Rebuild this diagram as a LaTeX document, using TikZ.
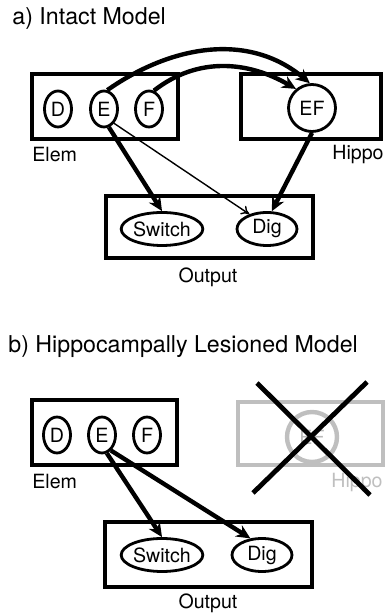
\documentclass[tikz,border=0pt]{standalone}
\usepackage{fontspec}
\setmainfont{TeX Gyre Heros}
\usetikzlibrary{shapes.geometric, arrows.meta}
\newcommand{\smalltext}{\fontsize{9.8}{11}\selectfont}
\newcommand{\bigtext}{\fontsize{11.6}{14}\selectfont}

\begin{document}
\begin{tikzpicture}[x=0.5pt, y=0.5pt,
    box/.style={draw, line width=1.8pt, inner sep=0pt, minimum width=73pt, minimum height=32.5pt},
    unit/.style={draw, ellipse, line width=1.4pt, inner sep=0pt, minimum width=13.5pt, minimum height=18pt, font=\smalltext},
    lbl/.style={inner sep=0pt, font=\smalltext},
    heading/.style={inner sep=0pt, anchor=west, font=\bigtext},
    link/.style={-{Stealth[length=7pt, width=6.5pt]}, line width=2.2pt},
    weak/.style={-{To[length=4pt, width=5pt]}, line width=0.7pt},
    lesion/.style={draw=gray!50, line width=2.2pt, inner sep=0pt},
    cross/.style={line width=2.4pt},
]
\useasboundingbox (0,0) rectangle (385,614);

    % a) Intact Model
    \node[heading] (titleA) at (12,595) {a) Intact Model};
    \node[box] (elemA) at (105,507.5) {};
    \node[box, minimum width=70pt] (hippoA) at (311,507.5) {};
    \foreach \n/\x in {D/58, E/104, F/149}
        \node[unit] (\n-a) at (\x,505) {\n};
    \node[unit, minimum width=23.5pt, minimum height=23.5pt] (EF-a) at (312,506) {EF};
    \node[lbl, anchor=west] (elemLabA) at (32,459) {Elem};
    \node[lbl, anchor=east] (hippoLabA) at (384,459) {Hippo};
    \node[box, minimum width=103.5pt, minimum height=31pt] (outA) at (209.5,387) {};
    \node[unit, minimum width=40.5pt, minimum height=16.5pt] (switchA) at (162,385) {Switch};
    \node[unit, minimum width=30pt, minimum height=16.5pt] (digA) at (267,385) {Dig};
    \node[lbl] (outLabA) at (208,337) {Output};

    \draw[link] (E-a.80) to[out=35, in=140] (EF-a.95);
    \draw[link] (F-a.75) to[out=38, in=150] (EF-a.130);
    \draw[link] (E-a.-75) -- (switchA.north);
    \draw[weak] (E-a.-55) -- (digA.140);
    \draw[link] (EF-a.south) -- (digA.75);

    % b) Hippocampally Lesioned Model
    \node[heading] (titleB) at (8,267) {b) Hippocampally Lesioned Model};
    \node[box, minimum width=72.5pt] (elemB) at (104.5,181.5) {};
    \node[lesion, minimum width=72.5pt, minimum height=31.5pt] (hippoB) at (310.5,180.5) {};
    \foreach \n/\x in {D/57, E/102, F/147}
        \node[unit] (\n-b) at (\x,179) {\n};
    \node[lesion, ellipse, minimum width=25pt, minimum height=25pt, text=gray!55, font=\smalltext] (EF-b) at (312,177) {EF};
    \node[lbl, anchor=west] (elemLabB) at (32,132) {Elem};
    \node[lbl, anchor=east, text=gray!50] (hippoLabB) at (383,132) {Hippo};
    \node[box, minimum width=103.5pt, minimum height=32.5pt] (outB) at (208.5,59.5) {};
    \node[unit, minimum width=40.5pt, minimum height=16.5pt] (switchB) at (162,59) {Switch};
    \node[unit, minimum width=30pt, minimum height=16.5pt] (digB) at (262,59) {Dig};
    \node[lbl] (outLabB) at (208,11) {Output};

    \draw[link] (E-b.-75) -- (switchB.north);
    \draw[link] (E-b.-60) -- (digB.125);

    % lesion cross
    \draw[cross] (257,231) -- (370,119);
    \draw[cross] (367,232) -- (253,121);
\end{tikzpicture}
\end{document}
